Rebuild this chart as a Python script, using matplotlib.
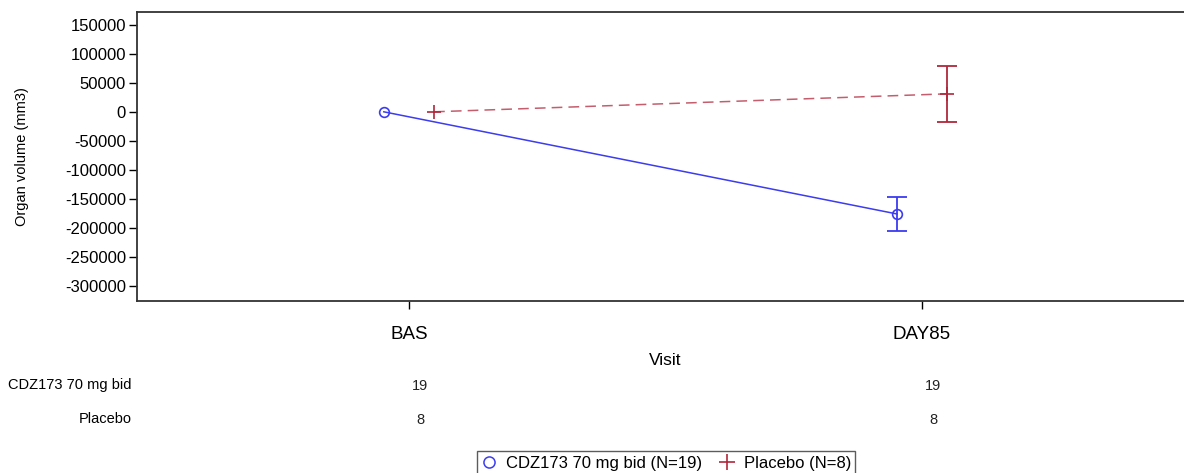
import matplotlib
matplotlib.use("Agg")
import matplotlib.pyplot as plt
import numpy as np
from matplotlib.lines import Line2D

plt.rcParams['font.family'] = ['Liberation Sans', 'DejaVu Sans']

# visits and per-group summary (mean change, standard error, n)
visits = ['BAS', 'DAY85']
groups = ['CDZ173 70 mg bid', 'Placebo']
cdz_mean = [0, -176000]
cdz_se = [0, 29000]
pbo_mean = [0, 31000]
pbo_se = [0, 48000]
cdz_n = [19, 19]
pbo_n = [8, 8]
yticks = list(range(-300000, 150001, 50000))

blue = '#3c3cf0'
red = '#b0283c'

fig = plt.figure(figsize=(11.84, 4.73), dpi=100)
ax = fig.add_axes([137 / 1184, 1 - 301 / 473, 1057 / 1184, 289 / 473])

x = np.arange(len(visits))
off = 0.049

ax.plot(x - off, cdz_mean, color=blue, lw=1.1)
ax.errorbar(x[1:] - off, cdz_mean[1:], yerr=cdz_se[1:], fmt='none',
            ecolor=blue, elinewidth=1.3, capsize=7, capthick=1.3)
ax.plot(x - off, cdz_mean, 'o', mfc='none', mec=blue, ms=7, mew=1.2, ls='none')

ax.plot(x + off, pbo_mean, color=red, lw=1.1, ls=(0, (7, 4)), alpha=0.75)
ax.errorbar(x[1:] + off, pbo_mean[1:], yerr=pbo_se[1:], fmt='none',
            ecolor=red, elinewidth=1.3, capsize=7, capthick=1.3)
ax.plot(x + off, pbo_mean, '+', color=red, ms=10, mew=1.2, ls='none')

ax.set_xlim(-0.53, 1.53)
ax.set_ylim(-326000, 172000)
ax.set_xticks(x)
ax.set_xticklabels(visits, fontsize=13.5)
ax.set_yticks(yticks)
ax.set_yticklabels([str(v) for v in yticks], fontsize=12)
ax.tick_params(axis='x', length=6, width=1, pad=12)
ax.tick_params(axis='y', length=6, width=1, pad=2)
for s in ['left', 'bottom', 'top']:
    ax.spines[s].set_linewidth(1.3)
    ax.spines[s].set_color('#333333')
ax.spines['right'].set_visible(False)

ax.set_ylabel('Organ volume (mm3)', fontsize=10.5, labelpad=26)
ax.set_xlabel('Visit', fontsize=12.5, labelpad=7)

# number of subjects per visit below the axis
trans = ax.get_xaxis_transform()
row_y = [-0.295, -0.412]
for row, (name, counts) in enumerate(zip(groups, [cdz_n, pbo_n])):
    fig.text(132 / 1184, 1 - (385 + 34 * row) / 473, name, ha='right', va='center',
             fontsize=10.5)
    for xi, c in zip(x, counts):
        ax.text(xi + 0.022, row_y[row], str(c), transform=trans, ha='center',
                va='center', fontsize=10.5, color='#222222')

handles = [Line2D([], [], marker='o', mfc='none', mec=blue, ls='none', ms=8, mew=1.1),
           Line2D([], [], marker='+', color=red, ls='none', ms=11, mew=1.2)]
labels = [f'{groups[0]} (N={cdz_n[0]})', f'{groups[1]} (N={pbo_n[0]})']
leg = fig.legend(handles, labels, loc='center', bbox_to_anchor=(666 / 1184, 1 - 463 / 473),
                 ncol=2, frameon=True, fancybox=False, fontsize=12,
                 handlelength=1.0, handletextpad=0.5, columnspacing=1.0,
                 borderpad=0.25, edgecolor='#333333')
leg.get_frame().set_linewidth(1.0)

fig.savefig('out.png', dpi=100)
